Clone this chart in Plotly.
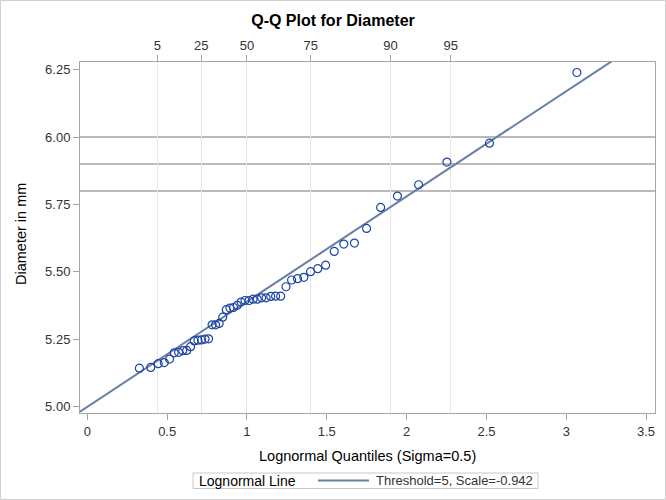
import math
import plotly.graph_objects as go

# ---- data ----
quantiles = [0.3261, 0.3970, 0.4440, 0.4819, 0.5148, 0.5443, 0.5718, 0.5977, 0.6225, 0.6466,
             0.6699, 0.6928, 0.7152, 0.7373, 0.7594, 0.7815, 0.8034, 0.8256, 0.8479, 0.8703,
             0.8930, 0.9159, 0.9393, 0.9632, 0.9876, 1.0126, 1.0382, 1.0646, 1.0918, 1.1198,
             1.1490, 1.1794, 1.2112, 1.2447, 1.2796, 1.3168, 1.3563, 1.3982, 1.4434, 1.4928,
             1.5465, 1.6064, 1.6731, 1.7489, 1.8372, 1.9425, 2.0751, 2.2523, 2.5189, 3.0666]
diameter = [5.143, 5.146, 5.160, 5.164, 5.177, 5.200, 5.202, 5.208, 5.209, 5.223,
            5.244, 5.247, 5.248, 5.251, 5.252, 5.304, 5.304, 5.309, 5.332, 5.360,
            5.366, 5.368, 5.376, 5.388, 5.394, 5.394, 5.399, 5.399, 5.404, 5.404,
            5.409, 5.410, 5.410, 5.445, 5.470, 5.475, 5.480, 5.501, 5.512, 5.525,
            5.576, 5.603, 5.607, 5.661, 5.739, 5.781, 5.823, 5.907, 5.977, 6.239]
pct_labels = ["5", "25", "50", "75", "90", "95"]
pct_positions = [0.4393, 0.7140, 1.0, 1.4001, 1.8983, 2.2763]
ref_lines = [5.80, 5.90, 6.00]
threshold = 5.0
scale = -0.942
x_ticks = [0, 0.5, 1, 1.5, 2, 2.5, 3, 3.5]
x_ticktext = ["0", "0.5", "1", "1.5", "2", "2.5", "3", "3.5"]
y_ticks = [5.00, 5.25, 5.50, 5.75, 6.00, 6.25]
legend_title = "Lognormal Line"
legend_entry = "Threshold=5, Scale=-0.942"

W, H = 666, 500
L, R, T, B = 80, 11, 62, 87
pw = W - L - R
ph = H - T - B
xr = [-0.046, 3.556]
yr = [4.977, 6.278]
FONT = "Liberation Sans, Arial, sans-serif"
FRAME = "#A5A5A5"
LINE_COLOR = "#667FA2"


def px(xpix):
    return (xpix - L) / pw


def py(ypix):
    return 1 - (ypix - T) / ph


slope = math.exp(scale)
lx = [xr[0], xr[1]]
ly = [threshold + slope * v for v in lx]

fig = go.Figure()
fig.add_trace(go.Scatter(
    x=lx, y=ly, mode="lines", name=legend_entry,
    line=dict(color=LINE_COLOR, width=2), showlegend=False))
fig.add_trace(go.Scatter(
    x=quantiles, y=diameter, mode="markers", showlegend=False,
    marker=dict(symbol="circle-open", size=8, color="#1F44A6", line=dict(width=1.2))))
# invisible trace to activate top axis
fig.add_trace(go.Scatter(x=[xr[0]], y=[yr[0]], xaxis="x2", mode="markers",
                         marker=dict(opacity=0), showlegend=False, hoverinfo="skip"))

for v in ref_lines:
    fig.add_shape(type="line", xref="paper", yref="y", x0=0, x1=1, y0=v, y1=v,
                  line=dict(color="#A3A3A3", width=1.5), layer="below")

# outer border
fig.add_shape(type="rect", xref="paper", yref="paper",
              x0=px(0.5), x1=px(W - 0.5), y0=py(H - 0.5), y1=py(0.5),
              line=dict(color="#D0D0D0", width=1))

# legend (drawn manually to match the compact boxed legend)
fig.add_shape(type="rect", xref="paper", yref="paper",
              x0=px(193), x1=px(538), y0=py(488.5), y1=py(473),
              line=dict(color="#C8C8C8", width=1), fillcolor="white")
fig.add_shape(type="line", xref="paper", yref="paper",
              x0=px(318), x1=px(369), y0=py(480.5), y1=py(480.5),
              line=dict(color=LINE_COLOR, width=2))

fig.update_layout(
    width=W, height=H, margin=dict(l=L, r=R, t=T, b=B, autoexpand=False),
    paper_bgcolor="white", plot_bgcolor="white",
    font=dict(family=FONT, size=13, color="#333333"),
    showlegend=False,
    title=dict(text="<b>Q-Q Plot for Diameter</b>", x=0.5, xanchor="center",
               y=1 - 20 / H, yanchor="middle",
               font=dict(family=FONT, size=16, color="black")),
    xaxis=dict(range=xr, tickvals=x_ticks, ticktext=x_ticktext, showgrid=False,
               zeroline=False, showline=True, linecolor=FRAME, linewidth=1, mirror=True,
               ticks="outside", ticklen=6, tickcolor=FRAME,
               tickfont=dict(size=13, color="#333333")),
    xaxis2=dict(range=xr, overlaying="x", side="top", tickvals=pct_positions,
                ticktext=pct_labels, showgrid=True, gridcolor="#E6E6E6", gridwidth=1,
                zeroline=False, showline=False, ticks="outside", ticklen=6,
                tickcolor=FRAME, tickfont=dict(size=13, color="#333333")),
    yaxis=dict(range=yr, tickvals=y_ticks, tickformat=".2f", showgrid=False,
               zeroline=False, showline=True, linecolor=FRAME, linewidth=1, mirror=True,
               ticks="outside", ticklen=6, tickcolor=FRAME,
               tickfont=dict(size=13, color="#333333")),
    annotations=[
        dict(text="Lognormal Quantiles (Sigma=0.5)", xref="paper", yref="paper",
             x=0.5, y=py(456), xanchor="center", yanchor="middle",
             showarrow=False, font=dict(size=14.5, color="black")),
        dict(text="Diameter in mm", xref="paper", yref="paper",
             x=px(21), y=py(234), xanchor="center", yanchor="middle",
             textangle=-90, showarrow=False, font=dict(size=14.5, color="black")),
        dict(text=legend_title, xref="paper", yref="paper",
             x=px(197), y=py(480.5), xanchor="left", yanchor="middle",
             showarrow=False, font=dict(size=14, color="black")),
        dict(text=legend_entry, xref="paper", yref="paper",
             x=px(374), y=py(480.5), xanchor="left", yanchor="middle",
             showarrow=False, font=dict(size=13, color="#333333")),
    ],
)

fig.write_html("out.html")
